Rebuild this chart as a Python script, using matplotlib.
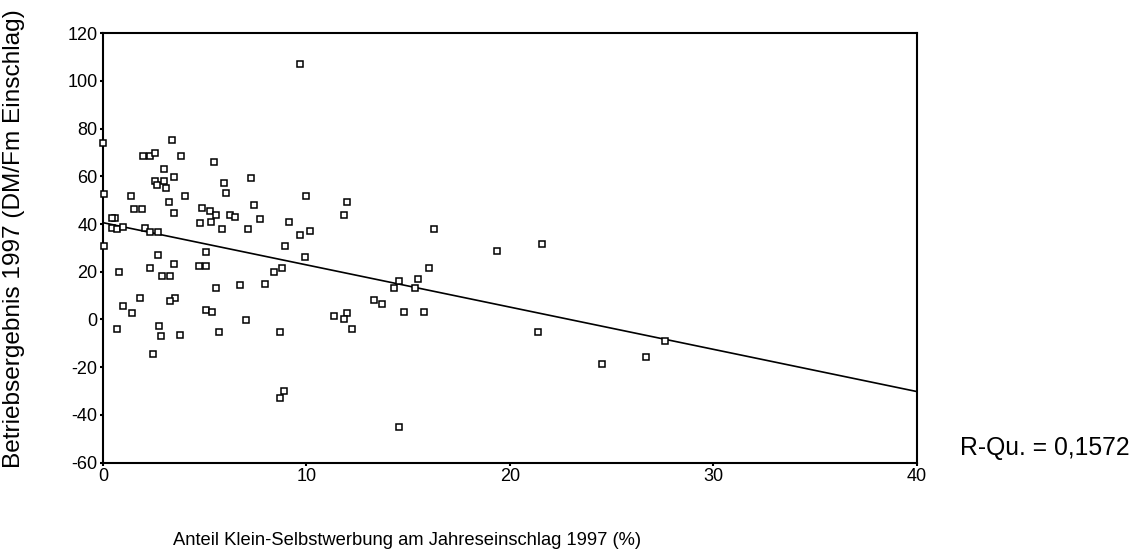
import numpy as np
import matplotlib
matplotlib.use("Agg")
import matplotlib.pyplot as plt

plt.rcParams["font.family"] = ["Liberation Sans", "DejaVu Sans"]
plt.rcParams["axes.unicode_minus"] = False

# Anteil Klein-Selbstwerbung (%) / Betriebsergebnis 1997 (DM/Fm)
anteil = [
    0.0, 3.39, 1.97, 2.31, 2.56, 3.85, 5.47, 3.0, 2.56, 2.98,
    3.47, 2.64, 3.08, 5.93, 7.26, 6.03, 0.07, 1.38, 4.01, 3.23,
    7.4, 1.54, 1.92, 3.47, 4.88, 5.26, 5.55, 6.26, 6.49, 7.73,
    9.13, 0.57, 0.45, 4.79, 5.33, 0.43, 0.69, 0.98, 2.08, 2.33,
    2.69, 5.87, 7.11, 0.07, 2.69, 5.08, 8.96, 0.77, 2.31, 3.47,
    4.70, 5.08, 8.42, 8.80, 2.92, 3.31, 5.54, 6.72, 7.96, 1.84,
    3.56, 3.31, 0.98, 1.44, 5.08, 5.34, 7.01, 0.69, 2.77, 2.85,
    3.77, 5.72, 8.72, 2.46, 8.88, 8.72, 9.69, 10.0, 12.0, 11.85,
    10.16, 9.69, 16.26, 9.92, 19.36, 16.03, 14.55, 15.49, 14.32, 15.32,
    13.32, 13.70, 11.37, 12.0, 11.83, 12.22, 14.78, 15.78, 14.55, 21.6,
    21.37, 24.55, 26.7, 27.63,
]
ergebnis = [
    74.0, 75.3, 68.4, 68.4, 69.7, 68.4, 66.0, 63.0, 57.9, 57.9,
    59.9, 56.3, 55.0, 57.4, 59.3, 53.0, 52.5, 51.8, 51.8, 49.4,
    48.1, 46.3, 46.3, 44.5, 46.9, 45.6, 43.8, 43.8, 43.1, 42.0,
    40.8, 42.7, 42.7, 40.3, 40.8, 38.4, 37.8, 38.9, 38.4, 36.7,
    36.7, 37.8, 37.8, 30.9, 27.2, 28.4, 30.9, 19.9, 21.7, 23.1,
    22.4, 22.4, 19.9, 21.7, 18.1, 18.1, 13.2, 14.5, 15.0, 8.9,
    8.9, 7.6, 5.7, 2.7, 4.0, 3.3, -0.2, -4.1, -2.7, -7.0,
    -6.5, -5.2, -5.2, -14.5, -29.9, -32.9, 107.1, 51.8, 49.3, 43.9,
    37.2, 35.3, 37.8, 26.1, 28.6, 21.7, 16.3, 16.9, 13.2, 13.2,
    8.3, 6.4, 1.5, 2.7, 0.2, -4.0, 3.3, 3.3, -45.1, 31.7,
    -5.2, -18.8, -15.7, -8.9,
]

# lineare Regression
fit_intercept = 40.6
fit_slope = -1.77
r_squared = "0,1572"

x_ticks = [0, 10, 20, 30, 40]
y_ticks = list(range(-60, 121, 20))

fig = plt.figure(figsize=(11.39, 5.53), dpi=100)
ax = fig.add_axes([0.0904, 0.1635, 0.7144, 0.7763])

ax.plot(anteil, ergebnis, "s", ms=5, mfc="white", mec="black", mew=1.1,
        clip_on=False, zorder=3)
xl = np.array([0, 40])
ax.plot(xl, fit_intercept + fit_slope * xl, color="black", lw=1.2, zorder=2)

ax.set_xlim(0, 40)
ax.set_ylim(-60, 120)
ax.set_xticks(x_ticks)
ax.set_yticks(y_ticks)
ax.tick_params(direction="out", length=2.5, width=1.5, labelsize=13, pad=1.5)
for s in ax.spines.values():
    s.set_linewidth(1.5)

fig.text(0.0125, 0.568, "Betriebsergebnis 1997 (DM/Fm Einschlag)",
         rotation=90, ha="center", va="center", fontsize=17.6)
fig.text(0.357, 0.022, "Anteil Klein-Selbstwerbung am Jahreseinschlag 1997 (%)",
         ha="center", va="center", fontsize=13.2)
fig.text(0.843, 0.19, f"R-Qu. = {r_squared}", ha="left", va="center", fontsize=17.8)

fig.savefig("out.png", dpi=100)
